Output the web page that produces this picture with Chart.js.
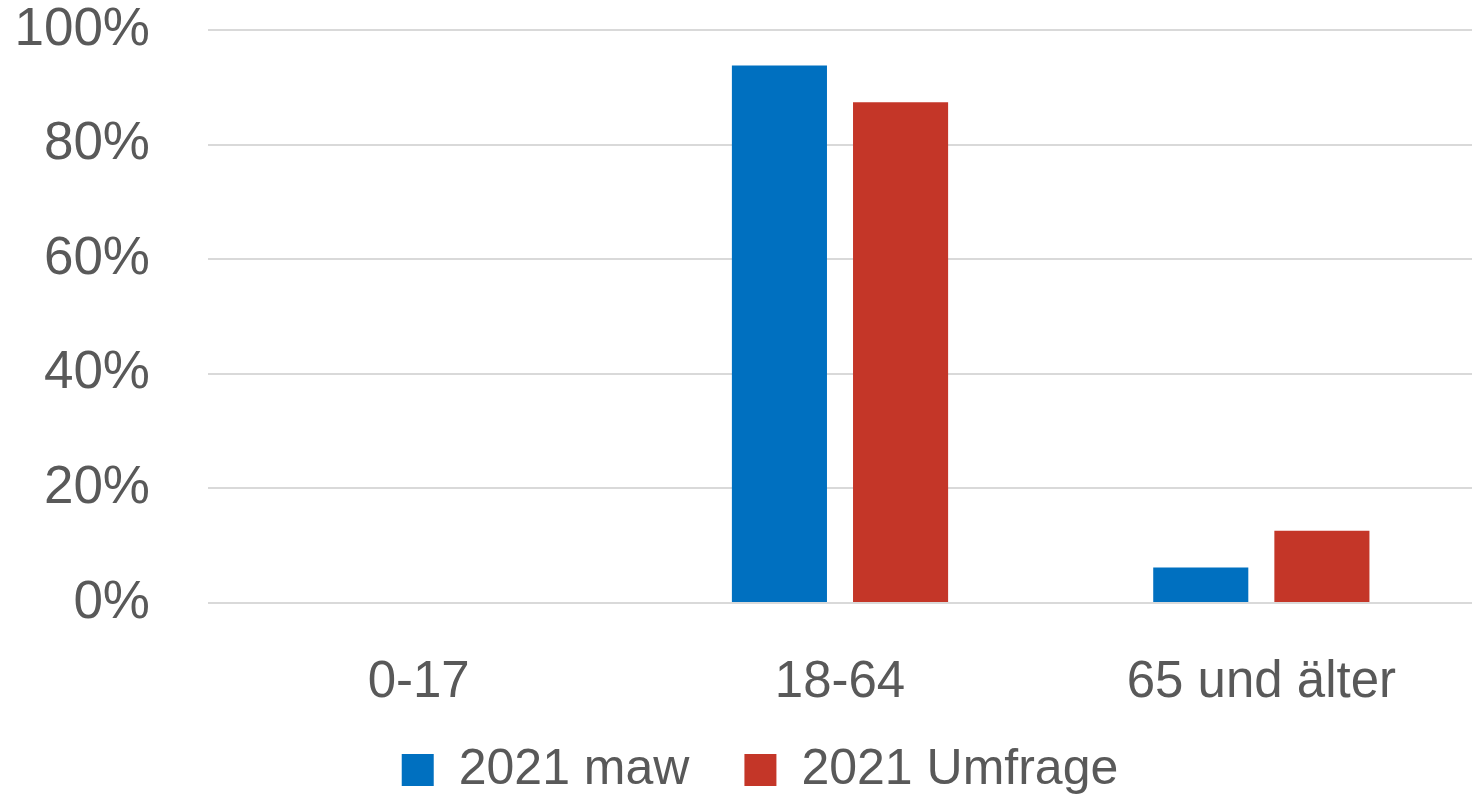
<!DOCTYPE html>
<html>
<head>
<meta charset="utf-8">
<script src="https://cdn.jsdelivr.net/npm/chart.js@4"></script>
<style>
  html, body { margin: 0; padding: 0; background: #fff; }
  #wrap { width: 1472px; height: 795px; }
</style>
</head>
<body>
<div id="wrap"><canvas id="chart"></canvas></div>
<script>
"use strict";
// age groups and shares (percent)
const categories = ['0-17', '18-64', '65 und älter'];
const seriesNames = ['2021 maw', '2021 Umfrage'];
const mawValues = [0, 93.8, 6.2];
const umfrageValues = [0, 87.4, 12.6];
const yTicks = [0, 20, 40, 60, 80, 100];

const textColor = '#595959';
const family = '"Liberation Sans", Arial, sans-serif';

// plot box edges
const plotLeft = 208;
const plotTop = 30;
const plotBottom = 603;
const extraBottom = 60;   // negative layout padding, legend is placed by hand
const legendBoxCenter = 770;
const legendShiftX = 24;

const legendPad = 55;
const legendFont = 50;

// move the legend row to its place after layout
const legendPlacer = {
  id: 'legendPlacer',
  afterLayout(chart) {
    const l = chart.legend;
    const h = l.height;
    l.top = legendBoxCenter - legendPad - legendFont / 2;
    l.bottom = l.top + h;
    l.left += legendShiftX;
    l.right += legendShiftX;
  }
};

const ctx = document.getElementById('chart').getContext('2d');
new Chart(ctx, {
  type: 'bar',
  data: {
    labels: categories,
    datasets: [
      { label: seriesNames[0], data: mawValues, backgroundColor: '#0070C0' },
      { label: seriesNames[1], data: umfrageValues, backgroundColor: '#C43628' }
    ]
  },
  plugins: [legendPlacer],
  options: {
    responsive: true,
    maintainAspectRatio: false,
    animation: false,
    layout: { padding: { top: 0, left: 0, right: 0, bottom: -extraBottom } },
    datasets: {
      bar: { categoryPercentage: 0.575, barPercentage: 0.785 }
    },
    plugins: {
      tooltip: { enabled: false },
      legend: {
        position: 'bottom',
        labels: {
          color: textColor,
          font: { family: family, size: legendFont },
          boxWidth: 32,
          boxHeight: 32,
          padding: legendPad
        }
      }
    },
    scales: {
      x: {
        grid: { display: false },
        border: { display: false },
        ticks: { color: textColor, font: { family: family, size: 51 }, padding: 41, maxRotation: 0 },
        afterFit: axis => {
          axis.height = axis.chart.height + extraBottom - axis.chart.legend.height - plotBottom;
        }
      },
      y: {
        min: 0,
        max: 100,
        afterBuildTicks: axis => { axis.ticks = yTicks.map(v => ({ value: v })); },
        afterFit: axis => {
          axis.width = plotLeft;
          axis.paddingTop = plotTop;
          axis.paddingBottom = 0;
        },
        grid: { color: '#d9d9d9', lineWidth: 2, drawTicks: false },
        border: { display: false },
        ticks: {
          color: textColor,
          font: { family: family, size: 53 },
          padding: 58,
          callback: v => v + '%'
        }
      }
    }
  }
});
</script>
</body>
</html>
